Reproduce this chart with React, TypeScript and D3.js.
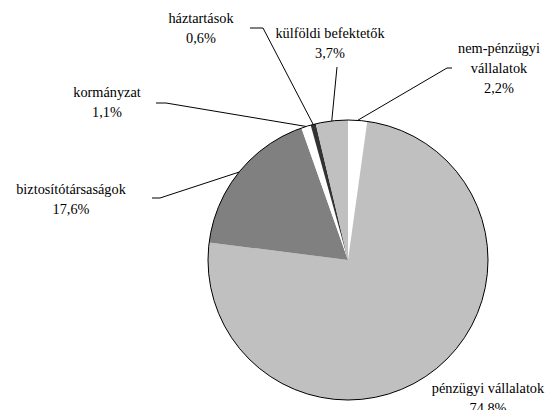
import React from "react";
import * as d3 from "d3";

const categories = [
  "nem-pénzügyi vállalatok",
  "pénzügyi vállalatok",
  "biztosítótársaságok",
  "kormányzat",
  "háztartások",
  "külföldi befektetők",
];
const values = [2.2, 74.8, 17.6, 1.1, 0.6, 3.7];
const valueLabels = ["2,2%", "74,8%", "17,6%", "1,1%", "0,6%", "3,7%"];
const nameLines = [
  ["nem-pénzügyi", "vállalatok"],
  ["pénzügyi vállalatok"],
  ["biztosítótársaságok"],
  ["kormányzat"],
  ["háztartások"],
  ["külföldi befektetők"],
];
const colors = ["#ffffff", "#c0c0c0", "#808080", "#ffffff", "#333333", "#c0c0c0"];

// layout: label center x, first baseline y, leader elbow and end
const labelLayout = [
  { x: 499, y: 53, elbow: [447, 68], end: [452, 68] },
  { x: 488, y: 393, elbow: null, end: null },
  { x: 71, y: 194, elbow: [160, 198], end: [152, 198] },
  { x: 107, y: 97, elbow: [166, 103], end: [156, 103] },
  { x: 201, y: 23, elbow: [263, 28], end: [250, 28] },
  { x: 330, y: 38, elbow: [337, 67], end: null },
];

const W = 555;
const H = 410;
const cx = 348;
const cy = 260;
const R = 140;

export default function App() {
  const pie = d3.pie<number>().sort(null).value((d) => d);
  const arcs = pie(values);
  const arc = d3.arc<d3.PieArcDatum<number>>().innerRadius(0).outerRadius(R);
  const lineH = 20;

  return (
    <svg
      width={W}
      height={H}
      style={{
        position: "absolute",
        left: 0,
        top: 0,
        background: "#fff",
        fontFamily: "'Liberation Serif', 'Times New Roman', serif",
        fontSize: "14.3px",
      }}
    >
      <g transform={`translate(${cx},${cy})`}>
        {arcs.map((a, i) => (
          <path key={i} d={arc(a) || ""} fill={colors[i]} stroke="none" />
        ))}
        <circle r={R} fill="none" stroke="#000" strokeWidth={1} />
      </g>
      {arcs.map((a, i) => {
        const L = labelLayout[i];
        if (!L.elbow) return null;
        const mid = (a.startAngle + a.endAngle) / 2;
        const sx = cx + R * Math.sin(mid);
        const sy = cy - R * Math.cos(mid);
        const pts = [[sx, sy], L.elbow];
        if (L.end) pts.push(L.end);
        const line = d3.line()(pts as [number, number][]);
        return <path key={"l" + i} d={line || ""} fill="none" stroke="#000" strokeWidth={1} />;
      })}
      {categories.map((c, i) => {
        const L = labelLayout[i];
        const lines = [...nameLines[i], valueLabels[i]];
        return (
          <text key={"t" + i} textAnchor="middle" fill="#000">
            {lines.map((t, j) => (
              <tspan key={j} x={L.x} y={L.y + j * lineH}>
                {t}
              </tspan>
            ))}
          </text>
        );
      })}
    </svg>
  );
}
